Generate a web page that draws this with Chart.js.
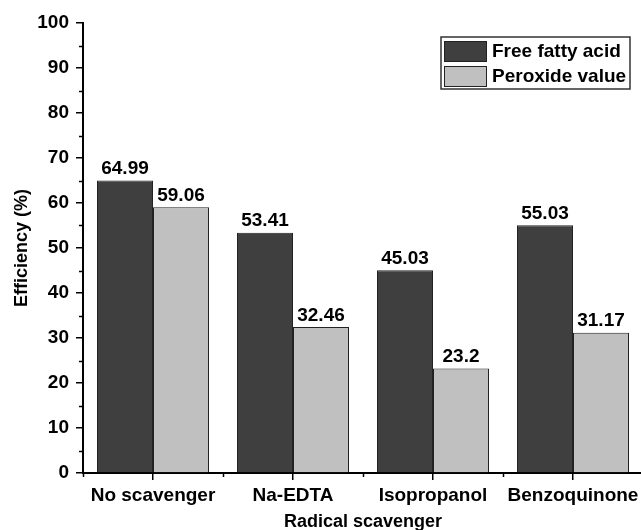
<!DOCTYPE html>
<html>
<head>
<meta charset="utf-8">
<script src="https://cdn.jsdelivr.net/npm/chart.js@4"></script>
<style>
    html, body { margin: 0; padding: 0; background: #fff; overflow: hidden; }
    #wrap { width: 641px; height: 530px; overflow: hidden; }
</style>
</head>
<body>
<div id="wrap"><canvas id="scavengerChart" width="643" height="530"></canvas></div>
<script>
const categories = ['No scavenger', 'Na-EDTA', 'Isopropanol', 'Benzoquinone'];
const freeFattyAcid = [64.99, 53.41, 45.03, 55.03];
const peroxideValue = [59.06, 32.46, 23.2, 31.17];
const seriesNames = ['Free fatty acid', 'Peroxide value'];
const yTicks = [0, 10, 20, 30, 40, 50, 60, 70, 80, 90, 100];

const FONT = 'Liberation Sans, Arial, sans-serif';

// minor tick marks on both axes
const minorTicks = {
    id: 'minorTicks',
    afterDraw(chart) {
        const ctx = chart.ctx;
        const x = chart.scales.x, y = chart.scales.y;
        ctx.save();
        ctx.strokeStyle = '#000';
        ctx.lineWidth = 1.5;
        ctx.beginPath();
        for (let v = 5; v < 100; v += 10) {
            const py = Math.round(y.getPixelForValue(v)) + 0.5;
            ctx.moveTo(x.left, py);
            ctx.lineTo(x.left - 4, py);
        }
        const step = x.getPixelForValue(1) - x.getPixelForValue(0);
        for (let i = 0; i <= categories.length; i++) {
            const px = Math.round(x.getPixelForValue(i) - step / 2) + 0.5;
            ctx.moveTo(px, y.bottom);
            ctx.lineTo(px, y.bottom + 4);
        }
        ctx.stroke();
        ctx.restore();
    }
};

// value labels above the bars
const valueLabels = {
    id: 'valueLabels',
    afterDatasetsDraw(chart) {
        const ctx = chart.ctx;
        ctx.save();
        ctx.font = 'bold 19px ' + FONT;
        ctx.fillStyle = '#000';
        ctx.textAlign = 'center';
        ctx.textBaseline = 'bottom';
        chart.data.datasets.forEach((ds, di) => {
            chart.getDatasetMeta(di).data.forEach((bar, i) => {
                ctx.fillText(String(ds.data[i]), bar.x, bar.y - 2);
            });
        });
        ctx.restore();
    }
};

// boxed legend in the top right
const boxLegend = {
    id: 'boxLegend',
    afterDraw(chart) {
        const ctx = chart.ctx;
        const bx = 441, by = 37, bw = 189, bh = 52;
        ctx.save();
        ctx.fillStyle = '#fff';
        ctx.fillRect(bx, by, bw, bh);
        ctx.strokeStyle = '#333';
        ctx.lineWidth = 1.5;
        ctx.strokeRect(bx, by, bw, bh);
        ctx.font = 'bold 19px ' + FONT;
        ctx.textBaseline = 'middle';
        chart.data.datasets.forEach((ds, i) => {
            const ry = by + 4 + i * 25;
            ctx.fillStyle = ds.backgroundColor;
            ctx.fillRect(bx + 3, ry, 43, 21);
            ctx.strokeStyle = '#222';
            ctx.lineWidth = 1;
            ctx.strokeRect(bx + 3.5, ry + 0.5, 42, 20);
            ctx.fillStyle = '#000';
            ctx.fillText(ds.label, bx + 51, ry + 11);
        });
        ctx.restore();
    }
};

new Chart(document.getElementById('scavengerChart'), {
    type: 'bar',
    data: {
        labels: categories,
        datasets: [{
            label: seriesNames[0],
            data: freeFattyAcid,
            backgroundColor: '#3f3f3f',
            borderColor: '#222',
            borderWidth: 1,
            categoryPercentage: 0.8,
            barPercentage: 1
        }, {
            label: seriesNames[1],
            data: peroxideValue,
            backgroundColor: '#c0c0c0',
            borderColor: '#222',
            borderWidth: 1,
            categoryPercentage: 0.8,
            barPercentage: 1
        }]
    },
    options: {
        responsive: false,
        animation: false,
        layout: { padding: { top: 23, right: 0, left: 0, bottom: 0 } },
        scales: {
            x: {
                grid: {
                    offset: false,
                    drawOnChartArea: false,
                    drawTicks: true,
                    tickLength: 7,
                    color: '#000',
                    lineWidth: 1.5
                },
                border: { display: true, color: '#000', width: 2 },
                ticks: {
                    color: '#000',
                    padding: 4,
                    maxRotation: 0,
                    font: { family: FONT, size: 19, weight: 'bold' }
                },
                title: {
                    display: true,
                    text: 'Radical scavenger',
                    color: '#000',
                    padding: { top: 0, bottom: -3 },
                    font: { family: FONT, size: 18, weight: 'bold' }
                },
                afterFit(scale) { scale.height = 57; }
            },
            y: {
                min: 0,
                max: 100,
                afterBuildTicks(scale) { scale.ticks = yTicks.map(v => ({ value: v })); },
                grid: {
                    drawOnChartArea: false,
                    drawTicks: true,
                    tickLength: 7,
                    color: '#000',
                    lineWidth: 1.5
                },
                border: { display: true, color: '#000', width: 2 },
                ticks: {
                    color: '#000',
                    padding: 7,
                    font: { family: FONT, size: 19, weight: 'bold' }
                },
                title: {
                    display: true,
                    text: 'Efficiency (%)',
                    color: '#000',
                    padding: { top: 11, bottom: 0 },
                    font: { family: FONT, size: 18, weight: 'bold' }
                },
                afterFit(scale) { scale.width = 83; }
            }
        },
        plugins: {
            legend: { display: false },
            tooltip: { enabled: false }
        }
    },
    plugins: [minorTicks, valueLabels, boxLegend]
});
</script>
</body>
</html>
